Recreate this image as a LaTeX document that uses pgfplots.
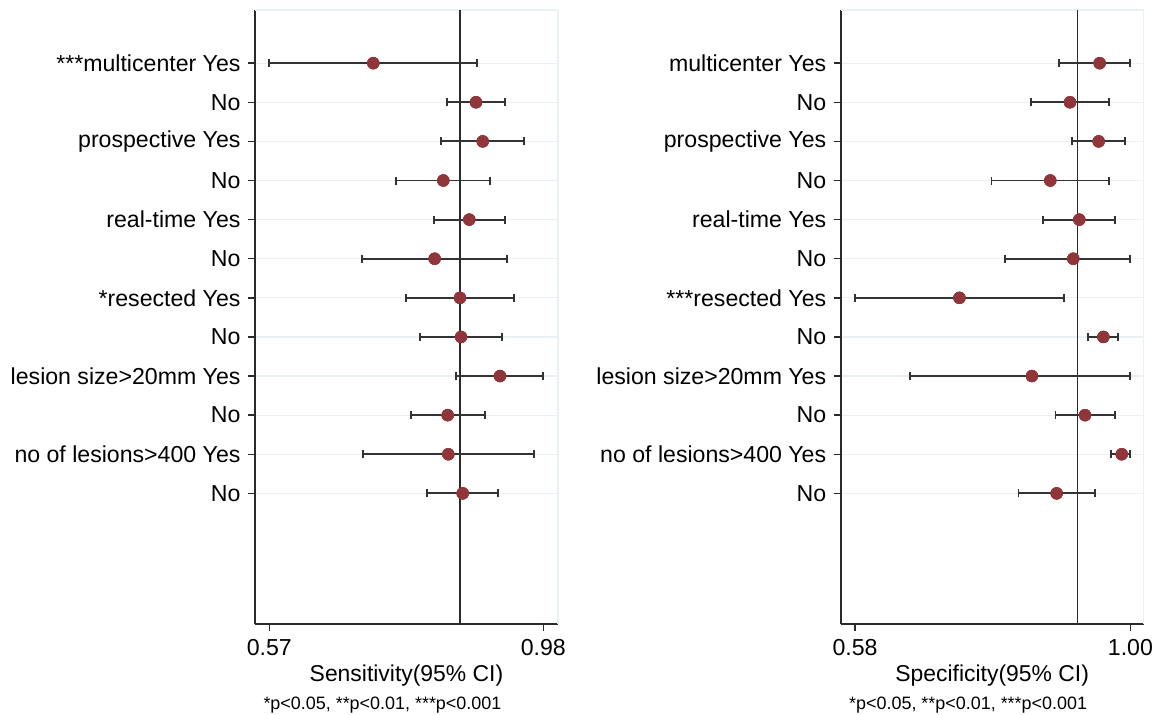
\documentclass[border=0pt]{standalone}
\usepackage{pgfplots}
\pgfplotsset{compat=1.18}
\usepackage{pgfplotstable}
\usepackage{fontspec}
\setmainfont{Liberation Sans}
\definecolor{dotred}{HTML}{903539}
\definecolor{gridc}{HTML}{EAF1F4}
\definecolor{axc}{HTML}{2A2A2A}
\definecolor{barc}{HTML}{333333}

\pgfplotstableread{
y x lo hi
12 0.7256 0.5700 0.8803
11 0.8793 0.8364 0.9231
10 0.8893 0.8274 0.9507
9 0.8304 0.7596 0.9007
8 0.8693 0.8164 0.9227
7 0.8174 0.7087 0.9257
6 0.8553 0.7741 0.9367
5 0.8569 0.7960 0.9177
4 0.9152 0.8494 0.9800
3 0.8369 0.7820 0.8923
2 0.8379 0.7107 0.9656
1 0.8594 0.8064 0.9117
}\sens

\pgfplotstableread{
y x lo hi
12 0.9531 0.8911 1.0000
11 0.9079 0.8483 0.9674
10 0.9516 0.9104 0.9919
9 0.8778 0.7882 0.9674
8 0.9221 0.8671 0.9760
7 0.9129 0.8091 1.0000
6 0.7393 0.5800 0.8992
5 0.9588 0.9348 0.9812
4 0.8498 0.6640 1.0000
3 0.9308 0.8859 0.9760
2 0.9868 0.9705 1.0000
1 0.8875 0.8294 0.9460
}\spec

\pgfplotsset{forest/.style={
  scale only axis, width=303bp, height=614bp,
  ymin=-2.34, ymax=13.36,
  axis lines*=left,
  axis line style={draw=axc, line width=1.6bp, -},
  ytick={1,...,12},
  ymajorgrids, grid style={gridc, line width=1.2bp},
  tick style={draw=axc, line width=1.4bp},
  tick align=outside, major tick length=7bp,
  ticklabel style={font=\fontsize{23.2}{27}\selectfont, text=black},
  yticklabel style={xshift=-4bp},
  xticklabel style={yshift=-5bp},
  label style={font=\fontsize{23}{27}\selectfont, text=black},
  xlabel style={at={(axis description cs:0.5,0)}, anchor=center, yshift=-52bp},
  /pgf/number format/assume math mode=true,
  clip=false,
  errs/.style={only marks, mark=*, mark size=6bp,
    mark options={draw=dotred, fill=dotred},
    error bars/.cd, x dir=both, x explicit, error mark=|,
    error bar style={draw=barc, line width=1.8bp, solid},
    error mark options={draw=barc, line width=1.8bp, mark size=4bp, solid}},
  dots/.style={only marks, mark=*, mark size=6bp, mark options={draw=dotred, fill=dotred}},
}}

\begin{document}
\begin{tikzpicture}
\useasboundingbox (0,0) rectangle (1157bp,715bp);

\begin{axis}[forest,
  at={(255bp,91bp)}, anchor=south west,
  xmin=0.5486, xmax=1.002,
  xtick={0.57,0.98}, xticklabels={0.57,0.98},
  yticklabels={No, no of lesions>400 Yes, No, lesion size>20mm Yes, No, *resected Yes, No, real-time Yes, No, prospective Yes, No, ***multicenter Yes},
  xlabel={Sensitivity(95\% CI)}]
  \draw[gridc, line width=1.5bp] (rel axis cs:0,1) -- (rel axis cs:1,1) -- (rel axis cs:1,0);
  \addplot[axc, line width=1.7bp, no marks] coordinates {(0.855,-2.34) (0.855,13.36)};
  \addplot[errs] table[x=x, y=y, x error plus expr=\thisrow{hi}-\thisrow{x}, x error minus expr=\thisrow{x}-\thisrow{lo}] {\sens};
  \addplot[dots] table[x=x, y=y] {\sens};
  \node[anchor=west, font=\fontsize{18}{22}\selectfont] at (rel axis cs:0,0) [xshift=5bp, yshift=-81bp] {*p<0.05, **p<0.01, ***p<0.001};
\end{axis}

\begin{axis}[forest,
  at={(840.7bp,91bp)}, anchor=south west,
  xmin=0.5582, xmax=1.0203,
  xtick={0.58,1.00}, xticklabels={0.58,1.00},
  yticklabels={No, no of lesions>400 Yes, No, lesion size>20mm Yes, No, ***resected Yes, No, real-time Yes, No, prospective Yes, No, multicenter Yes},
  xlabel={Specificity(95\% CI)}]
  \draw[gridc, line width=1.5bp] (rel axis cs:0,1) -- (rel axis cs:1,1) -- (rel axis cs:1,0);
  \addplot[axc, line width=1.7bp, no marks] coordinates {(0.9195,-2.34) (0.9195,13.36)};
  \addplot[errs] table[x=x, y=y, x error plus expr=\thisrow{hi}-\thisrow{x}, x error minus expr=\thisrow{x}-\thisrow{lo}] {\spec};
  \addplot[dots] table[x=x, y=y] {\spec};
  \node[anchor=west, font=\fontsize{18}{22}\selectfont] at (rel axis cs:0,0) [xshift=5bp, yshift=-81bp] {*p<0.05, **p<0.01, ***p<0.001};
\end{axis}
\end{tikzpicture}
\end{document}
